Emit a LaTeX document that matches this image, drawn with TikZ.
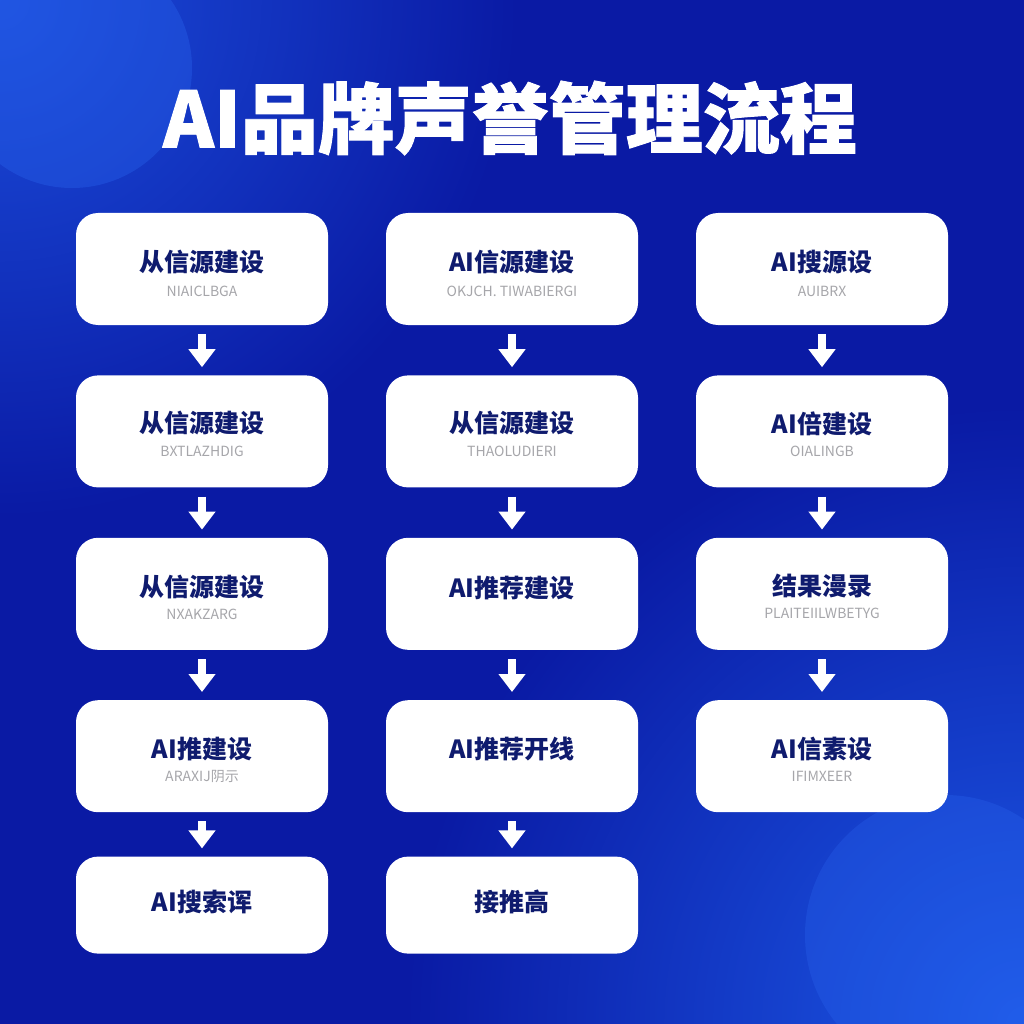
\documentclass[tikz,border=0pt]{standalone}
\usepackage{fontspec}
\setmainfont{Noto Sans CJK SC}
\usepackage{xcolor}
\usepackage{tikz}
\usetikzlibrary{
  arrows.meta,
  positioning,
  fadings
}
\definecolor{bgDark}{HTML}{0A1AA4}
\definecolor{bgLightTL}{HTML}{1C4EDC}
\definecolor{bgLightBR}{HTML}{1D5AE8}
\definecolor{glow}{HTML}{2A66F0}
\definecolor{navyText}{HTML}{0F1B6E}
\definecolor{subGrey}{HTML}{A6A6AA}
\tikzfading[name=glowfade, inner color=transparent!0,
            outer color=transparent!100]

\begin{document}
\begin{tikzpicture}[
    x=1pt, y=-1pt,
    card/.style={fill=white, rounded corners=22pt, minimum width=252pt,
                 minimum height=112pt, inner sep=0pt},
    lastcard/.style={card, minimum height=97pt},
    head/.style={font=\fontsize{25}{28}\selectfont\bfseries, text=navyText},
    sub/.style={font=\fontsize{14}{16}\selectfont, text=subGrey},
    flow/.style={white, line width=8pt,
                 -{Triangle[width=26pt, length=18pt]},
                 shorten <=9pt, shorten >=8pt},
  ]

  % Background
  \useasboundingbox (0,0) rectangle (1024,1024);
  \fill[bgDark] (0,0) rectangle (1024,1024);
  \begin{scope}
    \clip (0,0) rectangle (1024,1024);
    \fill[bgLightTL, path fading=glowfade] (0,0) circle[radius=520pt];
    \fill[bgLightBR, path fading=glowfade] (1024,1024) circle[radius=620pt];
  \end{scope}
  \fill[glow, opacity=0.35] (72,68) circle[radius=120pt];
  \fill[glow, opacity=0.3] (945,935) circle[radius=140pt];

  % Title
  \node[font=\fontsize{77}{80}\selectfont\bfseries\addfontfeatures{FakeBold=1.2},
        text=white] (title)
    at (510,118) {AI品牌声誉管理流程};

  % Column 1
  \node[card] (c11) at (202,269) {};
  \node[card, below=50pt of c11] (c12) {};
  \node[card, below=50pt of c12] (c13) {};
  \node[card, below=50pt of c13] (c14) {};
  \node[lastcard, below=44pt of c14] (c15) {};

  % Column 2
  \node[card] (c21) at (512,269) {};
  \node[card, below=50pt of c21] (c22) {};
  \node[card, below=50pt of c22] (c23) {};
  \node[card, below=50pt of c23] (c24) {};
  \node[lastcard, below=44pt of c24] (c25) {};

  % Column 3
  \node[card] (c31) at (822,269) {};
  \node[card, below=50pt of c31] (c32) {};
  \node[card, below=50pt of c32] (c33) {};
  \node[card, below=50pt of c33] (c34) {};

  % Card texts
  \node[head] (h11) at ([yshift=7pt]c11.center) {从信源建设};
  \node[sub]  (s11) at ([yshift=-22pt]c11.center) {NIAICLBGA};
  \node[head] (h12) at ([yshift=8pt]c12.center) {从信源建设};
  \node[sub]  (s12) at ([yshift=-20pt]c12.center) {BXTLAZHDIG};
  \node[head] (h13) at ([yshift=7pt]c13.center) {从信源建设};
  \node[sub]  (s13) at ([yshift=-21pt]c13.center) {NXAKZARG};
  \node[head] (h14) at ([yshift=7pt]c14.center) {AI推建设};
  \node[sub]  (s14) at ([yshift=-20pt]c14.center) {ARAXIJ阴示};
  \node[head] (h15) at ([yshift=3pt]c15.center) {AI搜索诨};

  \node[head] (h21) at ([yshift=7pt]c21.center) {AI信源建设};
  \node[sub]  (s21) at ([yshift=-22pt]c21.center) {OKJCH. TIWABIERGI};
  \node[head] (h22) at ([yshift=8pt]c22.center) {从信源建设};
  \node[sub]  (s22) at ([yshift=-20pt]c22.center) {THAOLUDIERI};
  \node[head] (h23) at ([yshift=6pt]c23.center) {AI推荐建设};
  \node[head] (h24) at ([yshift=7pt]c24.center) {AI推荐开线};
  \node[head] (h25) at ([yshift=3pt]c25.center) {接推高};

  \node[head] (h31) at ([yshift=7pt]c31.center) {AI搜源设};
  \node[sub]  (s31) at ([yshift=-22pt]c31.center) {AUIBRX};
  \node[head] (h32) at ([yshift=8pt]c32.center) {AI倍建设};
  \node[sub]  (s32) at ([yshift=-20pt]c32.center) {OIALINGB};
  \node[head] (h33) at ([yshift=8pt]c33.center) {结果漫录};
  \node[sub]  (s33) at ([yshift=-20pt]c33.center) {PLAITEIILWBETYG};
  \node[head] (h34) at ([yshift=7pt]c34.center) {AI信素设};
  \node[sub]  (s34) at ([yshift=-20pt]c34.center) {IFIMXEER};

  % Arrows
  \draw[flow] (c11) -- (c12);
  \draw[flow] (c12) -- (c13);
  \draw[flow] (c13) -- (c14);
  \draw[flow] (c14) -- (c15);
  \draw[flow] (c21) -- (c22);
  \draw[flow] (c22) -- (c23);
  \draw[flow] (c23) -- (c24);
  \draw[flow] (c24) -- (c25);
  \draw[flow] (c31) -- (c32);
  \draw[flow] (c32) -- (c33);
  \draw[flow] (c33) -- (c34);

\end{tikzpicture}
\end{document}
